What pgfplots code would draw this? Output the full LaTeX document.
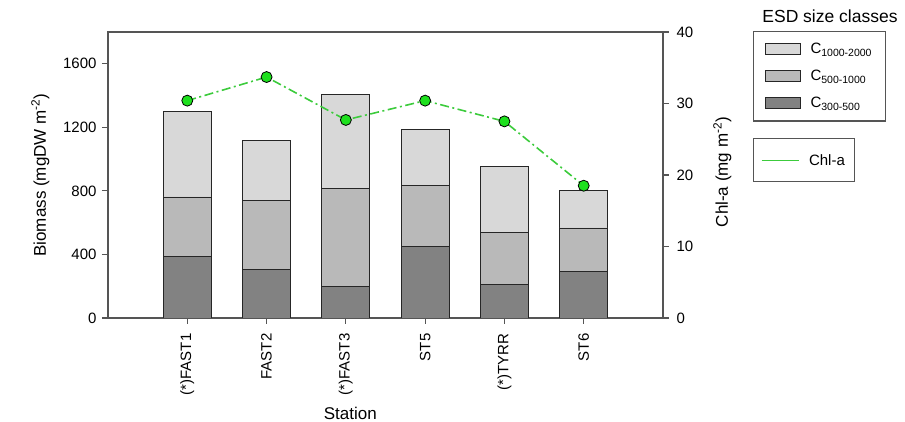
\documentclass[border=0pt]{standalone}
\usepackage{fontspec}
\setmainfont{Liberation Sans}
\usepackage{pgfplots}
\pgfplotsset{compat=1.18}
\definecolor{cdark}{HTML}{828282}
\definecolor{cmid}{HTML}{B9B9B9}
\definecolor{clight}{HTML}{D8D8D8}
\definecolor{lgreen}{HTML}{3CCB3C}
\definecolor{mgreen}{HTML}{1EE01E}
\definecolor{axgray}{HTML}{555555}
\pgfplotsset{
  tickfont/.style={font=\fontsize{15}{18}\selectfont},
  common/.style={
    at={(0,0)}, anchor=south west,
    width=555pt, height=286pt, scale only axis,
    xmin=0, xmax=7,
    tick align=outside, major tick length=6pt,
    axis line style={draw=axgray, line width=1.1pt},
    every tick/.style={draw=axgray, line width=1.1pt},
    /pgf/number format/assume math mode=true,
    /pgf/number format/1000 sep={},
    yticklabel style={tickfont},
    label style={font=\fontsize{17}{20}\selectfont},
  },
  barleg/.style={legend image code/.code={\draw[##1] (0pt,-5.5pt) rectangle (35pt,5.5pt);}},
}
\begin{document}
\begin{tikzpicture}
\path[use as bounding box] (-108pt,-104pt) rectangle (797pt,318pt);
\begin{axis}[common,
  ymin=0, ymax=1800,
  ybar stacked, bar width=48pt,
  xtick={1,...,6},
  xticklabels={(*)FAST1,FAST2,(*)FAST3,ST5,(*)TYRR,ST6},
  xticklabel style={yshift=-6pt, rotate=90, anchor=east, tickfont},
  yticklabel style={xshift=-2pt},
  ytick={0,400,...,1600},
  ytick pos=left, xtick pos=bottom,
  xlabel={Station},
  ylabel={Biomass (mgDW m\textsuperscript{-2})},
  xlabel style={at={(axis description cs:0.4365,-0.332)}, anchor=center},
  ylabel style={at={(axis description cs:-0.122,0.5)}, anchor=center},
  reverse legend,
  legend style={at={(axis description cs:1.1616,1.003)}, anchor=north west,
    draw=axgray, line width=1.1pt, font=\fontsize{15}{18}\selectfont,
    inner xsep=11.5pt, inner ysep=9.7pt, row sep=11pt, column sep=8pt,
    cells={anchor=west}},
]
\addplot[fill=cdark, draw=black!85, line width=0.8pt, barleg] coordinates {(1,385) (2,304) (3,199) (4,448) (5,211) (6,291)};
\addlegendentry{C\textsubscript{300-500}}
\addplot[fill=cmid, draw=black!85, line width=0.8pt, barleg] coordinates {(1,377) (2,435) (3,618) (4,387) (5,327) (6,276)};
\addlegendentry{C\textsubscript{500-1000}}
\addplot[fill=clight, draw=black!85, line width=0.8pt, barleg] coordinates {(1,536) (2,379) (3,590) (4,350) (5,417) (6,233)};
\addlegendentry{C\textsubscript{1000-2000}}
\end{axis}
\begin{axis}[common,
  ymin=0, ymax=40,
  axis x line=none, axis y line*=right,
  ytick={0,10,...,40},
  yticklabel style={xshift=4pt},
  ylabel={Chl-a (mg m\textsuperscript{-2})},
  ylabel style={at={(axis description cs:1.107,0.51)}, anchor=center},
  legend style={at={(axis description cs:1.1616,0.628)}, anchor=north west,
    draw=axgray, line width=1.1pt, font=\fontsize{15}{18}\selectfont,
    inner xsep=7.8pt, inner ysep=13.3pt, column sep=8pt,
    cells={anchor=west}},
]
\addplot[lgreen, line width=1.6pt, dash pattern=on 9pt off 3.5pt on 2pt off 3.5pt,
  mark=*, mark size=5.5pt, mark options={solid, fill=mgreen, draw=black, line width=0.8pt},
  legend image code/.code={\draw[solid, lgreen, line width=1pt] (0pt,0pt) -- (37pt,0pt);}]
  coordinates {(1,30.4) (2,33.7) (3,27.7) (4,30.4) (5,27.5) (6,18.5)};
\addlegendentry{Chl-a}
\end{axis}
\node[font=\fontsize{17.5}{20}\selectfont] at (722pt,301.3pt) {ESD size classes};
\end{tikzpicture}
\end{document}
